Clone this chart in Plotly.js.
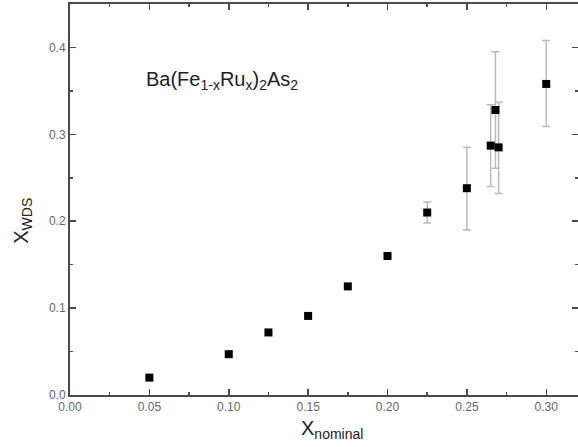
<!DOCTYPE html>
<html>
<head>
<meta charset="utf-8">
<script src="https://cdn.plot.ly/plotly-3.0.1.min.js"></script>
<style>html,body{margin:0;padding:0;background:#fff;}#chart{width:578px;height:447px;}</style>
</head>
<body>
<div id="chart"></div>
<script>
const xNominal = [0.05, 0.10, 0.125, 0.15, 0.175, 0.20, 0.225, 0.25, 0.265, 0.268, 0.270, 0.30];
const xWDS     = [0.020, 0.047, 0.072, 0.091, 0.125, 0.160, 0.210, 0.238, 0.287, 0.328, 0.285, 0.358];
const errPlus  = [0, 0, 0, 0, 0, 0, 0.012, 0.047, 0.047, 0.067, 0.052, 0.050];
const errMinus = [0, 0, 0, 0, 0, 0, 0.012, 0.048, 0.047, 0.067, 0.053, 0.049];
const xTickVals = [0, 0.05, 0.10, 0.15, 0.20, 0.25, 0.30];
const yTickVals = [0, 0.1, 0.2, 0.3, 0.4];

const axisCol = '#4a4a4a';
const trace = {
  x: xNominal, y: xWDS, type: 'scatter', mode: 'markers',
  marker: {symbol: 'square', size: 8, color: '#000'},
  error_y: {type: 'data', symmetric: false, array: errPlus, arrayminus: errMinus,
            color: '#bbb', thickness: 1.5, width: 4}
};
const layout = {
  width: 578, height: 447,
  margin: {l: 70, r: 0, t: 4, b: 52},
  paper_bgcolor: '#fff', plot_bgcolor: '#fff',
  showlegend: false,
  font: {family: 'Liberation Sans, Arial, sans-serif', color: '#666', size: 12},
  xaxis: {
    range: [0, 0.32], tickvals: xTickVals, tickformat: '.2f',
    showgrid: false, zeroline: false, showline: true, linecolor: axisCol, linewidth: 2,
    mirror: 'ticks', ticks: 'inside', ticklen: 6, tickcolor: axisCol, tickwidth: 1.5,
    minor: {dtick: 0.025, tick0: 0, ticks: 'inside', ticklen: 3, tickcolor: axisCol, tickwidth: 1.5},
    tickfont: {size: 12, color: '#666'}
  },
  yaxis: {
    range: [0, 0.45], tickvals: yTickVals, tickformat: '.1f',
    showgrid: false, zeroline: false, showline: true, linecolor: axisCol, linewidth: 2,
    mirror: 'ticks', ticks: 'inside', ticklen: 6, tickcolor: axisCol, tickwidth: 1.5,
    minor: {dtick: 0.05, tick0: 0, ticks: 'inside', ticklen: 3, tickcolor: axisCol, tickwidth: 1.5},
    tickfont: {size: 12, color: '#666'}
  },
  annotations: [{
    xref: 'paper', yref: 'paper', x: 0.145, y: 0.805, xanchor: 'left', yanchor: 'middle',
    text: 'Ba(Fe<sub>1-x</sub>Ru<sub>x</sub>)<sub>2</sub>As<sub>2</sub>', showarrow: false,
    font: {size: 20, color: '#222'}
  }, {
    xref: 'paper', yref: 'paper', x: -0.095, y: 0.445, xanchor: 'center', yanchor: 'middle',
    textangle: -90, text: 'X<sub>WDS</sub>', showarrow: false,
    font: {size: 20, color: '#222'}
  }, {
    xref: 'paper', yref: 'paper', x: 0.516, y: -0.089, xanchor: 'center', yanchor: 'middle',
    text: 'X<sub>nominal</sub>', showarrow: false,
    font: {size: 20, color: '#222'}
  }]
};
Plotly.newPlot('chart', [trace], layout, {displayModeBar: false, staticPlot: true});
</script>
</body>
</html>
